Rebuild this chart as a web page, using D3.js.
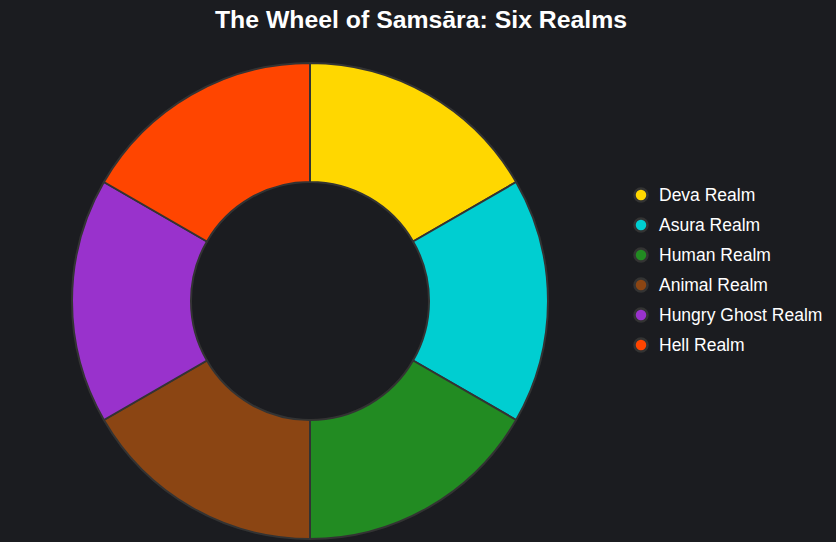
<!DOCTYPE html>
<html>
<head>
<meta charset="utf-8">
<script src="https://cdn.jsdelivr.net/npm/d3@7"></script>
<style>
  html, body { margin: 0; padding: 0; background: #1b1c20; }
  svg { display: block; }
</style>
</head>
<body>
<svg id="chart" width="836" height="542"></svg>
<script>
// six realms, equal share of the wheel
var realms = ['Deva Realm', 'Asura Realm', 'Human Realm', 'Animal Realm', 'Hungry Ghost Realm', 'Hell Realm'];
var shares = [1, 1, 1, 1, 1, 1];
var realmColors = ['#ffd700', '#00ced1', '#228b22', '#8b4513', '#9932cc', '#ff4500'];

var svg = d3.select('#chart');
var width = 836, height = 542;
var cx = 310, cy = 301;
var outerR = 238, innerR = 119;

svg.append('rect').attr('width', width).attr('height', height).attr('fill', '#1b1c20');

svg.append('text')
    .attr('x', 421).attr('y', 28)
    .attr('text-anchor', 'middle')
    .attr('fill', '#ffffff')
    .attr('font-family', 'Liberation Sans, Arial, sans-serif')
    .attr('font-size', 24.8)
    .attr('font-weight', 'bold')
    .text('The Wheel of Samsāra: Six Realms');

var data = realms.map(function (d, i) { return { name: d, value: shares[i], color: realmColors[i] }; });

var pie = d3.pie().sort(null).value(function (d) { return d.value; });
var arc = d3.arc().innerRadius(innerR).outerRadius(outerR);

var g = svg.append('g').attr('transform', 'translate(' + cx + ',' + cy + ')');
g.selectAll('path')
    .data(pie(data))
    .enter()
    .append('path')
    .attr('d', arc)
    .attr('fill', function (d) { return d.data.color; })
    .attr('stroke', '#333333')
    .attr('stroke-width', 2);

// legend
var legend = svg.append('g').attr('transform', 'translate(641,195)');
var rows = legend.selectAll('g')
    .data(data)
    .enter()
    .append('g')
    .attr('transform', function (d, i) { return 'translate(0,' + (i * 30) + ')'; });

rows.append('circle')
    .attr('r', 6.5)
    .attr('fill', function (d) { return d.color; })
    .attr('stroke', '#333333')
    .attr('stroke-width', 2.5);

rows.append('text')
    .attr('x', 18).attr('y', 6)
    .attr('fill', '#ffffff')
    .attr('font-family', 'Liberation Sans, Arial, sans-serif')
    .attr('font-size', 17.5)
    .text(function (d) { return d.name; });
</script>
</body>
</html>
